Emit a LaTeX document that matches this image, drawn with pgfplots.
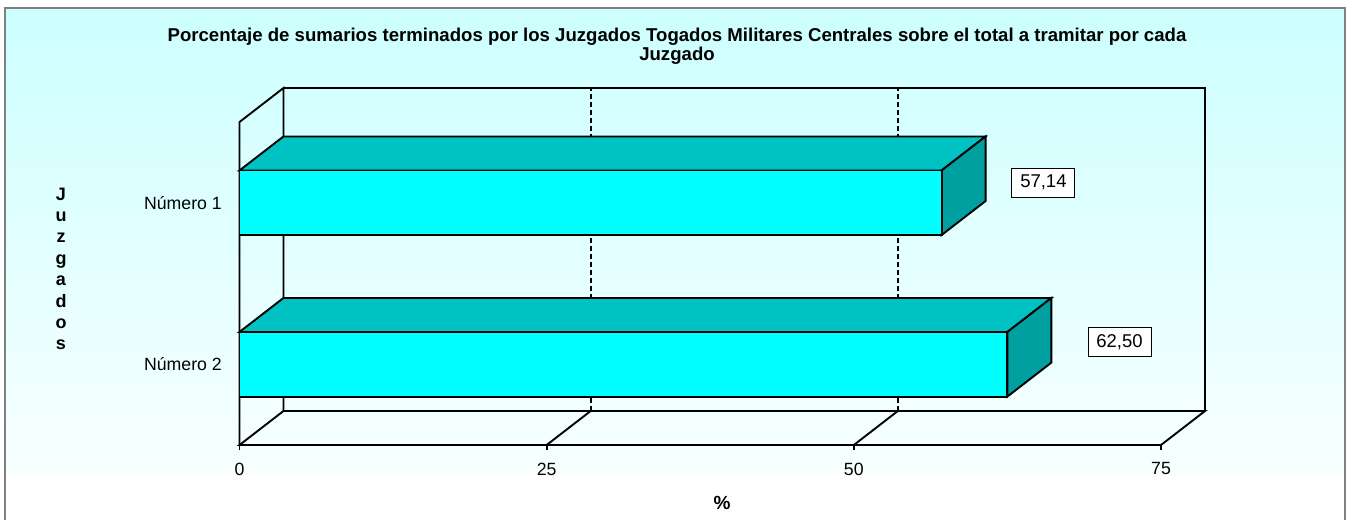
\documentclass[border=0pt]{standalone}
\usepackage{pgfplots}
\pgfplotsset{compat=1.18}
\usepackage{fontspec}
\setmainfont{Liberation Sans}

\definecolor{bgtop}{RGB}{204,255,255}
\definecolor{bgbot}{RGB}{248,255,255}
\definecolor{barfront}{RGB}{0,255,255}
\definecolor{bartop}{RGB}{0,194,194}
\definecolor{barside}{RGB}{0,160,160}
\definecolor{framegray}{RGB}{128,128,128}

% 3D depth offset of the chart, in axis units
\def\dx{3.58}
\def\dy{0.2105}

\begin{document}
\begin{tikzpicture}
\path[use as bounding box] (0pt,0pt) rectangle (1351pt,-520pt);
\shade[top color=bgtop,bottom color=bgbot] (5pt,-8pt) rectangle (1345pt,-475pt);
\fill[white] (5pt,-475pt) rectangle (1345pt,-520pt);
\draw[framegray,line width=1.5pt] (5pt,-520pt)--(5pt,-8pt)--(1345pt,-8pt)--(1345pt,-520pt);

\begin{axis}[
  at={(239.5pt,-445pt)}, anchor=south west,
  scale only axis, width=921.5pt, height=323pt,
  xmin=0, xmax=75, ymin=0, ymax=2,
  clip=false,
  axis line style={draw=none},
  xtick={0,25,50,75},
  ytick={0.5,1.5},
  yticklabels={Número 2,Número 1},
  tick pos=left,
  tick align=outside,
  major tick length=5pt,
  xtick style={black,line width=1.9pt},
  ytick style={draw=none},
  tick label style={font=\fontsize{17.7}{20}\selectfont},
  xticklabel style={inner sep=0pt,yshift=-12.5pt},
  yticklabel style={inner sep=0pt,xshift=-12.5pt},
  /pgf/number format/assume math mode=true,
]
% walls and floor
\draw[line width=1.9pt] (axis cs:0,0) -- (axis cs:0,2) -- (axis cs:\dx,2+\dy) -- (axis cs:\dx,\dy);
\draw[line width=1.9pt] (axis cs:\dx,\dy) -- (axis cs:\dx,2+\dy) -- (axis cs:75+\dx,2+\dy) -- (axis cs:75+\dx,\dy);
\draw[line width=1.9pt] (axis cs:0,0) -- (axis cs:75,0) -- (axis cs:75+\dx,\dy) -- (axis cs:\dx,\dy) -- cycle;
\draw[line width=1.9pt] (axis cs:25,0) -- (axis cs:25+\dx,\dy);
\draw[line width=1.9pt] (axis cs:50,0) -- (axis cs:50+\dx,\dy);
\draw[line width=1.9pt,dash pattern=on 5pt off 3pt] (axis cs:25+\dx,\dy) -- (axis cs:25+\dx,2+\dy);
\draw[line width=1.9pt,dash pattern=on 5pt off 3pt] (axis cs:50+\dx,\dy) -- (axis cs:50+\dx,2+\dy);

% bar tops
\addplot[draw=black,fill=bartop,line width=1.9pt] coordinates {(0,1.7) (57.14,1.7) (60.72,1.9105) (3.58,1.9105)} -- cycle;
\addplot[draw=black,fill=bartop,line width=1.9pt] coordinates {(0,0.7) (62.50,0.7) (66.08,0.9105) (3.58,0.9105)} -- cycle;
% bar sides
\addplot[draw=black,fill=barside,line width=1.9pt] coordinates {(57.14,1.3) (57.14,1.7) (60.72,1.9105) (60.72,1.5105)} -- cycle;
\addplot[draw=black,fill=barside,line width=1.9pt] coordinates {(62.50,0.3) (62.50,0.7) (66.08,0.9105) (66.08,0.5105)} -- cycle;
% bar fronts
\addplot[xbar,bar width=64.6pt,draw=black,fill=barfront,line width=1.9pt] coordinates {(57.14,1.5) (62.50,0.5)};

% value labels
\node[draw=black,line width=0.9pt,fill=white,minimum width=63pt,minimum height=29pt,inner sep=0pt,font=\fontsize{18.5}{20}\selectfont] at (axis cs:65.43,1.625) {57,14};
\node[draw=black,line width=0.9pt,fill=white,minimum width=63pt,minimum height=29pt,inner sep=0pt,font=\fontsize{18.5}{20}\selectfont] at (axis cs:71.62,0.638) {62,50};
\end{axis}

\node[anchor=base,font=\bfseries\fontsize{18.6}{22}\selectfont] at (677pt,-41.7pt) {Porcentaje de sumarios terminados por los Juzgados Togados Militares Centrales sobre el total a tramitar por cada};
\node[anchor=base,font=\bfseries\fontsize{18.6}{22}\selectfont] at (677pt,-60.7pt) {Juzgado};
\foreach \l [count=\i from 0] in {J,u,z,g,a,d,o,s}
  \node[anchor=base,font=\bfseries\fontsize{18}{20}\selectfont] at (61pt,{-200pt-21.4pt*\i}) {\l};
\node[anchor=base,font=\bfseries\fontsize{19}{22}\selectfont] at (722pt,-509pt) {\%};
\end{tikzpicture}
\end{document}
